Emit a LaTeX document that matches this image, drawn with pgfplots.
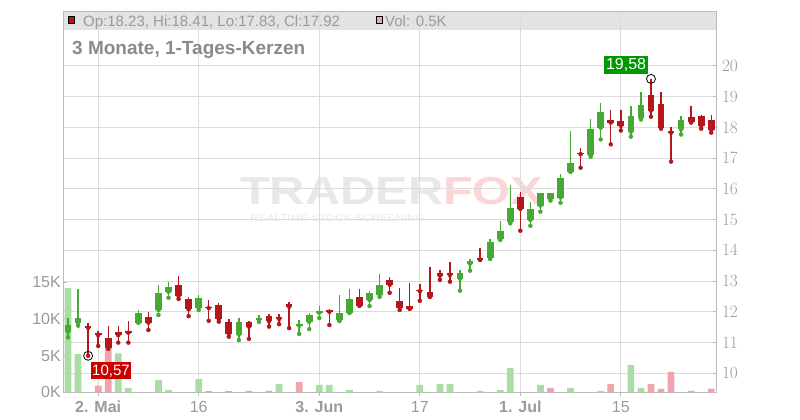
\documentclass[border=0pt]{standalone}
\usepackage{pgfplots}
\pgfplotsset{compat=1.18}
\usepackage{pgfplotstable}
\usepackage{fontspec}
\setmainfont{Liberation Sans}
\definecolor{cgreen}{HTML}{47A935}
\definecolor{cred}{HTML}{B3161B}
\definecolor{vgreen}{HTML}{AADDA4}
\definecolor{vred}{HTML}{F0A5AD}
\definecolor{gridc}{HTML}{DCDCDC}
\definecolor{framec}{HTML}{BBBBBB}
\definecolor{labc}{HTML}{9A9A9A}
\definecolor{bandc}{HTML}{E3E3E3}
\definecolor{titlec}{HTML}{8A8A8A}
\definecolor{wmgray}{HTML}{E8E8E8}
\definecolor{wmpink}{HTML}{FBD6D6}
\definecolor{boxred}{HTML}{CC0000}
\definecolor{boxgreen}{HTML}{009900}

% up candles (close > open)
\pgfplotstableread{
x open high low close
0 11.35 11.79 11.17 11.57
1 11.65 12.73 11.55 11.80
7 11.65 12.06 11.65 11.95
9 12.06 12.87 11.90 12.60
10 12.65 12.98 12.46 12.80
13 12.13 12.55 12.06 12.44
17 11.26 11.79 11.08 11.67
19 11.73 11.90 11.67 11.80
23 11.55 11.73 11.28 11.60
24 11.67 11.97 11.44 11.90
25 11.97 12.19 11.80 12.03
27 11.73 12.56 11.70 11.97
28 11.97 12.74 11.97 12.42
30 12.38 12.67 12.19 12.62
31 12.56 13.23 12.49 12.87
39 13.08 13.36 12.69 13.28
40 13.57 13.73 13.34 13.67
42 13.76 14.37 13.72 14.28
43 14.37 14.96 14.34 14.63
44 14.92 16.13 14.88 15.39
46 14.99 15.57 14.80 15.35
47 15.46 15.87 15.26 15.87
48 15.68 15.87 15.62 15.87
49 15.72 16.49 15.55 16.36
50 16.56 17.90 16.56 16.84
52 17.10 18.28 17.05 17.95
53 17.99 18.80 17.61 18.50
56 17.86 18.70 17.70 18.37
57 18.30 19.15 18.26 18.73
61 17.94 18.36 17.77 18.24
}\upc

% down candles (close < open)
\pgfplotstableread{
x open high low close
2 11.54 11.65 10.57 11.48
3 11.32 11.39 10.89 11.24
4 11.14 11.55 10.80 10.81
5 11.34 11.55 11.00 11.24
6 11.38 11.70 11.00 11.32
8 11.82 11.98 11.41 11.65
11 12.87 13.16 12.42 12.52
12 12.41 12.49 11.86 12.08
14 12.17 12.38 11.71 12.12
15 12.22 12.30 11.68 11.77
16 11.68 11.77 11.19 11.29
18 11.67 11.70 11.12 11.52
20 11.86 11.93 11.52 11.70
21 11.83 11.93 11.60 11.77
22 12.25 12.32 11.47 12.17
26 12.07 12.10 11.57 12.00
29 12.48 12.74 12.20 12.20
32 13.04 13.12 12.62 12.88
33 12.35 12.79 12.06 12.14
34 12.20 12.93 12.10 12.10
35 12.72 12.91 12.36 12.67
36 12.65 13.47 12.49 12.49
37 13.25 13.36 13.04 13.18
38 13.25 13.63 12.98 13.20
41 13.74 14.08 13.70 13.69
45 15.74 15.90 14.64 15.35
51 17.18 17.33 16.69 17.13
54 18.24 18.57 17.45 18.16
55 18.21 18.57 17.90 18.06
58 19.06 19.58 18.35 18.55
59 18.76 19.15 17.96 17.99
60 17.90 18.00 16.89 17.83
62 18.34 18.70 18.16 18.18
63 18.37 18.40 17.96 18.06
64 18.23 18.41 17.83 17.92
}\downc

% volume (thousands), rising vs. previous close
\pgfplotstableread{
x v
0 14.2
1 5.2
5 5.3
6 0.6
9 1.7
10 0.3
13 1.8
21 1.1
25 1.0
26 1.0
28 0.3
31 0.2
35 1.0
37 1.1
38 1.1
41 0.2
43 0.3
44 3.3
47 1.0
50 0.6
53 0.2
56 3.7
57 0.6
}\volup

% volume (thousands), falling vs. previous close
\pgfplotstableread{
x v
3 0.9
4 6.0
14 0.15
16 0.15
18 0.2
20 0.2
23 1.4
48 0.6
54 1.1
58 1.1
59 0.45
60 2.8
62 0.2
64 0.5
}\voldown

\begin{document}
\begin{tikzpicture}
\path[use as bounding box] (0pt,0pt) rectangle (800pt,420pt);
% header band
\fill[bandc] (63pt,390pt) rectangle (716.3pt,408pt);
% watermark
\node[anchor=base west, inner sep=0pt, text=wmgray, font=\fontsize{39}{39}\selectfont\bfseries] at (240pt,215pt) {\scalebox{1.25}[1]{TRADER}};
\node[anchor=base west, inner sep=0pt, text=wmpink, font=\fontsize{39}{39}\selectfont\bfseries] at (443pt,215pt) {\scalebox{1.25}[1]{FOX}};
\node[anchor=base west, inner sep=0pt, text=wmgray, font=\fontsize{9.8}{9.8}\selectfont] at (250pt,198pt) {\scalebox{1.2}[1]{REALTIME STOCK SCREENING}};

% price axis: grid, frame, ticks
\begin{axis}[at={(63pt,27.7pt)}, anchor=south west, width=653.3pt, height=380.3pt, scale only axis,
  xmin=-0.5, xmax=64.5, ymin=9.382, ymax=21.757,
  axis line style={framec, line width=1pt},
  xtick={3,13,25,35,45,55},
  xticklabels={\textbf{2. Mai},16,\textbf{3. Jun},17,\textbf{1. Jul},15},
  ytick={10,11,...,20},
  ytick pos=right, yticklabel pos=right, xtick pos=bottom,
  tick align=outside, major tick length=3.5pt,
  tick style={framec, line width=1pt},
  y tick style={xshift=-3.5pt},
  grid=major, major grid style={gridc, line width=1pt},
  ticklabel style={font=\fontsize{16}{16}\selectfont, text=labc},
  xticklabel style={anchor=north, inner sep=0pt, yshift=-5pt},
  yticklabel style={anchor=west, inner sep=0pt, xshift=2pt},
]
\end{axis}

% volume axis
\begin{axis}[at={(63pt,27.7pt)}, anchor=south west, width=653.3pt, height=380.3pt, scale only axis,
  xmin=-0.5, xmax=64.5, ymin=0, ymax=51.86,
  axis x line=none, axis y line*=left,
  y axis line style={framec, line width=1pt},
  ytick={0,5,10,15}, yticklabels={0K,5K,10K,15K},
  tick align=inside, major tick length=3.5pt,
  tick style={framec, line width=1pt},
  ticklabel style={font=\fontsize{16}{16}\selectfont, text=labc},
  yticklabel style={anchor=east, inner sep=0pt, xshift=-2pt},
]
\addplot[ybar, bar width=6.7pt, bar shift=0pt, fill=vgreen, draw=none] table[x=x,y=v] \volup;
\addplot[ybar, bar width=6.7pt, bar shift=0pt, fill=vred, draw=none] table[x=x,y=v] \voldown;
\end{axis}

% candles
\begin{axis}[at={(63pt,27.7pt)}, anchor=south west, width=653.3pt, height=380.3pt, scale only axis,
  xmin=-0.5, xmax=64.5, ymin=9.382, ymax=21.757, axis lines=none, clip=false]
% wicks
\addplot[cgreen, only marks, mark=none,
  error bars/.cd, y dir=plus, y explicit, error mark=none,
  error bar style={cgreen, line width=1.4pt}]
  table[x=x, y=low, y error plus expr=\thisrow{high}-\thisrow{low}] \upc;
\addplot[cred, only marks, mark=none,
  error bars/.cd, y dir=plus, y explicit, error mark=none,
  error bar style={cred, line width=1.4pt}]
  table[x=x, y=low, y error plus expr=\thisrow{high}-\thisrow{low}] \downc;
% bodies
\addplot[cgreen, only marks, mark=none,
  error bars/.cd, y dir=plus, y explicit, error mark=none,
  error bar style={cgreen, line width=6.7pt}]
  table[x=x, y=open, y error plus expr=\thisrow{close}-\thisrow{open}] \upc;
\addplot[cred, only marks, mark=none,
  error bars/.cd, y dir=plus, y explicit, error mark=none,
  error bar style={cred, line width=6.7pt}]
  table[x=x, y=close, y error plus expr=\thisrow{open}-\thisrow{close}] \downc;
% extreme markers
\addplot[only marks, mark=o, mark size=4.5pt, black, line width=0.8pt] coordinates {(2,10.57) (58,19.58)};
\node[fill=boxred, text=white, font=\fontsize{15}{15}\selectfont, inner sep=0pt, minimum width=40pt, minimum height=17pt]
  at (axis cs:2,10.57) [xshift=22.8pt, yshift=-15.2pt] {10,57};
\node[fill=boxgreen, text=white, font=\fontsize{16}{16}\selectfont, inner sep=0pt, minimum width=44pt, minimum height=18.5pt]
  at (axis cs:58,19.58) [xshift=-24.9pt, yshift=13.9pt] {19,58};
\end{axis}

% header texts
\draw[fill=cred, draw=black, line width=0.8pt] (68pt,396.7pt) rectangle (74.7pt,404pt);
\node[anchor=base west, inner sep=0pt, text=labc, font=\fontsize{15}{15}\selectfont] at (83pt,393.3pt) {Op:18.23, Hi:18.41, Lo:17.83, Cl:17.92};
\draw[fill=vred, draw=black, line width=0.8pt] (376pt,396.7pt) rectangle (382.7pt,404pt);
\node[anchor=base west, inner sep=0pt, text=labc, font=\fontsize{15}{15}\selectfont] at (385pt,393.3pt) {Vol: 0.5K};
% title
\node[anchor=base west, inner sep=0pt, text=titlec, font=\fontsize{19}{19}\selectfont\bfseries] at (72pt,365.7pt) {3 Monate, 1-Tages-Kerzen};
\end{tikzpicture}
\end{document}
